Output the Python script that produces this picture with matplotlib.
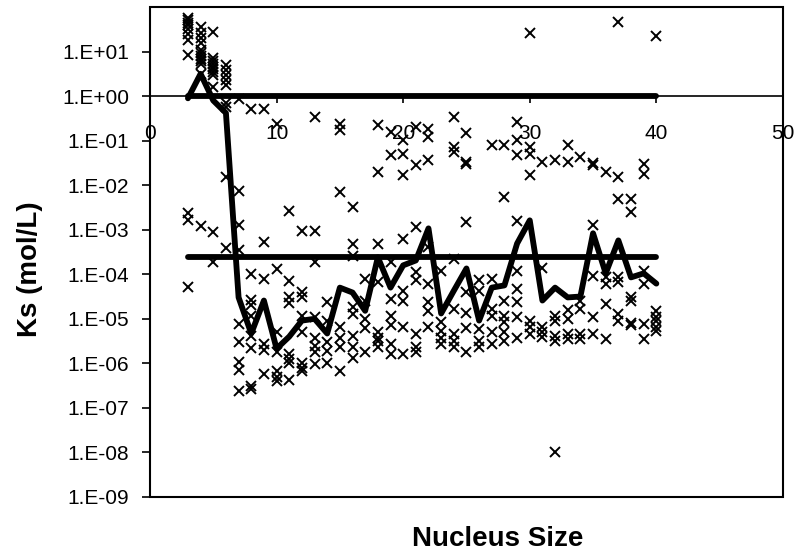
import numpy as np
import matplotlib
matplotlib.use("Agg")
import matplotlib.pyplot as plt
from matplotlib.patches import Rectangle

# Ks values, stored as log10(Ks), one group per nucleus size
pts_size = ([3] * 11 + [4] * 12 + [5] * 11 + [6] * 9 + [7] * 9 + [8] * 9
            + [9] * 6 + [10] * 7 + [11] * 8 + [12] * 8 + [13] * 8 + [14] * 5
            + [15] * 7 + [16] * 8 + [17] * 5 + [18] * 8 + [19] * 8 + [20] * 8
            + [21] * 8 + [22] * 8 + [23] * 5 + [24] * 8 + [25] * 8 + [26] * 5
            + [27] * 6 + [28] * 7 + [29] * 9 + [30] * 7 + [31] * 5 + [32] * 6
            + [33] * 6 + [34] * 5 + [35] * 6 + [36] * 5 + [37] * 7 + [38] * 6
            + [39] * 6 + [40] * 6)
pts_logks = [
    1.75, 1.7, 1.65, 1.6, 1.5, 1.4, 1.25, 0.92, -2.63, -2.79, -4.28,          # 3
    1.55, 1.42, 1.3, 1.19, 1.03, 0.97, 0.9, 0.84, 0.78, 0.72, 0.5, -2.92,    # 4
    1.44, 0.85, 0.78, 0.72, 0.66, 0.6, 0.54, 0.47, 0.2, -3.06, -3.73,        # 5
    0.7, 0.58, 0.47, 0.36, 0.25, -0.16, -0.25, -1.82, -3.4,                  # 6
    -0.07, -2.12, -2.9, -3.45, -5.12, -5.53, -5.96, -6.15, -6.62,            # 7
    -0.28, -4.0, -4.58, -4.7, -4.93, -5.38, -5.65, -6.5, -6.57,              # 8
    -0.28, -3.28, -4.1, -5.57, -5.7, -6.24,                                  # 9
    -0.63, -3.88, -5.3, -5.75, -6.17, -6.3, -6.4,                            # 10
    -2.58, -4.16, -4.5, -4.65, -5.8, -5.9, -6.0, -6.37,                      # 11
    -3.02, -4.4, -4.52, -4.93, -5.3, -6.0, -6.1, -6.18,                      # 12
    -0.47, -3.04, -3.73, -4.97, -5.42, -5.6, -5.75, -6.02,                   # 13
    -4.63, -5.04, -5.53, -5.72, -6.0,                                        # 14
    -0.62, -0.77, -2.15, -5.19, -5.42, -5.64, -6.17,                         # 15
    -2.5, -3.33, -3.58, -4.74, -4.9, -5.38, -5.64, -5.87,                    # 16
    -4.1, -4.6, -5.0, -5.2, -5.75,                                           # 17
    -0.65, -1.7, -3.32, -4.18, -5.3, -5.42, -5.5, -5.64,                     # 18
    -0.8, -1.33, -3.73, -4.55, -4.93, -5.15, -5.57, -5.79,                   # 19
    -0.99, -1.29, -1.78, -3.2, -4.37, -4.59, -5.19, -5.79,                   # 20
    -0.69, -1.55, -2.94, -3.96, -4.14, -5.34, -5.64, -5.75,                  # 21
    -0.73, -0.92, -1.44, -3.39, -4.22, -4.63, -4.82, -5.19,                  # 22
    -3.92, -5.08, -5.27, -5.42, -5.57,                                       # 23
    -0.47, -1.14, -1.26, -3.65, -4.78, -5.34, -5.5, -5.64,                   # 24
    -0.84, -1.48, -1.52, -2.83, -4.4, -4.86, -5.2, -5.75,                    # 25
    -4.14, -4.37, -5.23, -5.5, -5.64,                                        # 26
    -1.1, -4.1, -4.78, -4.93, -5.3, -5.57,                                   # 27
    -1.1, -2.27, -4.59, -4.93, -5.08, -5.3, -5.49,                           # 28
    -0.58, -0.99, -1.33, -2.8, -3.92, -4.33, -4.63, -4.97, -5.42,            # 29
    1.41, -1.14, -1.29, -1.78, -5.04, -5.19, -5.34,                          # 30
    -1.48, -3.85, -5.19, -5.3, -5.4,                                         # 31
    -1.44, -4.93, -5.05, -5.38, -5.49, -8.0,                                 # 32
    -1.1, -1.48, -4.8, -5.0, -5.35, -5.45,                                   # 33
    -1.37, -4.6, -4.78, -5.35, -5.45,                                        # 34
    -1.5, -1.55, -2.9, -4.03, -4.95, -5.34,                                  # 35
    -1.7, -4.07, -4.22, -4.67, -5.45,                                        # 36
    1.67, -1.82, -2.3, -4.07, -4.18, -4.9, -5.04,                            # 37
    -2.3, -2.6, -4.52, -4.6, -5.1, -5.15,                                    # 38
    -1.52, -1.74, -3.92, -4.22, -5.11, -5.45,                                # 39
    1.35, -4.82, -4.95, -5.05, -5.19, -5.27,                                 # 40
]

# thick line through the sizes (log10 Ks)
line_size = list(range(3, 41))
line_logks = [-0.05, 0.5, -0.1, -0.38, -4.52, -5.33, -4.59, -5.67, -5.4, -5.04,
              -5.0, -5.33, -4.3, -4.41, -4.82, -3.62, -4.3, -3.8, -3.69, -2.97,
              -4.88, -4.37, -3.87, -5.04, -4.3, -4.25, -3.31, -2.79, -4.59, -4.3,
              -4.52, -4.5, -3.08, -3.98, -3.24, -4.07, -3.98, -4.21]

# two flat reference levels
ref_size = [3, 40]
ref_upper = [1.0, 1.0]
ref_lower = [2.4e-4, 2.4e-4]

xticks = [0, 10, 20, 30, 40, 50]
yticks = [1e-9, 1e-8, 1e-7, 1e-6, 1e-5, 1e-4, 1e-3, 1e-2, 1e-1, 1e0, 1e1]
ytick_labels = ["1.E-09", "1.E-08", "1.E-07", "1.E-06", "1.E-05", "1.E-04",
                "1.E-03", "1.E-02", "1.E-01", "1.E+00", "1.E+01"]

plt.rcParams["font.family"] = ["Liberation Sans", "DejaVu Sans"]

fig = plt.figure(figsize=(7.99, 5.54), dpi=100)
ax = fig.add_axes([0.1877, 0.1029, 0.7922, 0.8845])

ax.plot(pts_size, 10 ** np.array(pts_logks), ls="none", marker="x",
        ms=6.5, mew=1.4, color="k", zorder=3)
ax.plot(line_size, 10 ** np.array(line_logks), color="k", lw=4.2,
        solid_joinstyle="round", solid_capstyle="round", zorder=4)
ax.plot(ref_size, ref_upper, color="k", lw=4.2, solid_capstyle="round", zorder=4)
ax.plot(ref_size, ref_lower, color="k", lw=4.2, solid_capstyle="round", zorder=4)

ax.set_yscale("log")
ax.set_xlim(0, 50)
ax.set_ylim(1e-9, 1e2)

# x axis crosses at Ks = 1, frame drawn separately
ax.spines["bottom"].set_position(("data", 1.0))
ax.spines["bottom"].set_linewidth(1.2)
for s in ["top", "left", "right"]:
    ax.spines[s].set_visible(False)
ax.add_patch(Rectangle((0, 0), 1, 1, transform=ax.transAxes, fill=False,
                       ec="k", lw=1.5, clip_on=False, zorder=5))

ax.set_xticks(xticks)
ax.set_xticklabels([str(t) for t in xticks])
ax.set_yticks(yticks)
ax.set_yticklabels(ytick_labels)
ax.yaxis.set_minor_locator(matplotlib.ticker.NullLocator())
ax.tick_params(axis="x", direction="out", length=5, width=1.2, pad=15, labelsize=15)
ax.tick_params(axis="y", direction="out", length=6, width=1.2, pad=9, labelsize=15)

ax.set_ylabel("Ks (mol/L)", fontsize=20, fontweight="bold", va="center")
ax.yaxis.set_label_coords(-0.19, 0.465)
ax.set_xlabel("Nucleus Size", fontsize=20, fontweight="bold", va="center")
ax.xaxis.set_label_coords(0.55, -0.086)

fig.savefig("out.png", dpi=100)
